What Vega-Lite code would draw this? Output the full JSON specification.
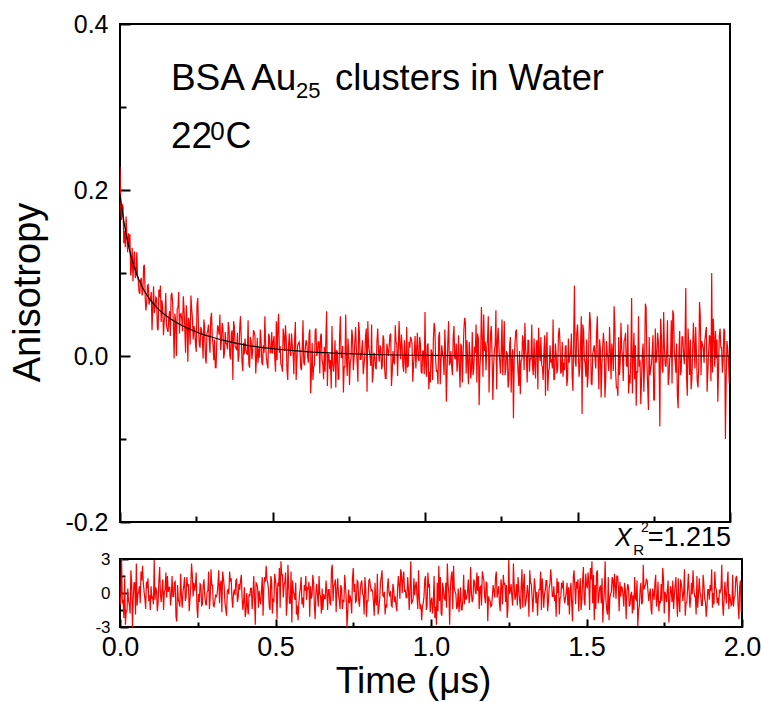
{
"$schema": "https://vega.github.io/schema/vega-lite/v6.json",
"padding": {"left": 8, "top": 11, "right": 5, "bottom": 5},
"bounds": "flush",
"spacing": 37,
"config": {
  "font": "Liberation Sans",
  "view": {"stroke": "#000", "strokeWidth": 2},
  "axis": {"domain": false, "grid": false, "labelFlush": false, "labelOverlap": false, "tickColor": "#000", "tickWidth": 2, "labelColor": "#000", "titleColor": "#000", "labelFont": "Liberation Sans", "titleFont": "Liberation Sans", "titleFontWeight": "normal"}
},
"datasets": {
"d": [
{"t":0,"a":0.228,"e":-1.1},{"t":0.005,"a":0.164,"e":3.0},{"t":0.01,"a":0.179,"e":-0.6},{"t":0.015,"a":0.151,"e":1.3},{"t":0.02,"a":0.168,"e":-1.6},{"t":0.025,"a":0.125,"e":0.4},{"t":0.03,"a":0.131,"e":-1.0},{"t":0.035,"a":0.097,"e":2.0},{"t":0.04,"a":0.130,"e":-3.0},{"t":0.045,"a":0.116,"e":0.9},
{"t":0.05,"a":0.094,"e":-1.9},{"t":0.055,"a":0.125,"e":-1.1},{"t":0.06,"a":0.091,"e":0.1},{"t":0.065,"a":0.075,"e":-0.9},{"t":0.07,"a":0.094,"e":1.1},{"t":0.075,"a":0.078,"e":0.9},{"t":0.08,"a":0.110,"e":-0.5},{"t":0.085,"a":0.055,"e":1.0},{"t":0.09,"a":0.085,"e":1.3},{"t":0.095,"a":0.062,"e":-0.2},
{"t":0.1,"a":0.070,"e":0.6},{"t":0.105,"a":0.031,"e":-0.3},{"t":0.11,"a":0.084,"e":2.9},{"t":0.115,"a":0.059,"e":0.5},{"t":0.12,"a":0.070,"e":-1.6},{"t":0.125,"a":0.031,"e":1.1},{"t":0.13,"a":0.071,"e":-0.1},{"t":0.135,"a":0.041,"e":0.2},{"t":0.14,"a":0.058,"e":-1.5},{"t":0.145,"a":0.042,"e":0.3},
{"t":0.15,"a":0.076,"e":-0.4},{"t":0.155,"a":0.032,"e":0.1},{"t":0.16,"a":0.046,"e":0.5},{"t":0.165,"a":0.024,"e":-0.2},{"t":0.17,"a":0.076,"e":-0.3},{"t":0.175,"a":0.039,"e":0.9},{"t":0.18,"a":0.051,"e":-2.1},{"t":0.185,"a":0.000,"e":0.7},{"t":0.19,"a":0.058,"e":-0.8},{"t":0.195,"a":0.027,"e":1.7},
{"t":0.2,"a":0.051,"e":-1.3},{"t":0.205,"a":0.030,"e":0.6},{"t":0.21,"a":0.057,"e":-0.7},{"t":0.215,"a":0.004,"e":1.4},{"t":0.22,"a":0.039,"e":0.8},{"t":0.225,"a":0.046,"e":-0.6},{"t":0.23,"a":0.014,"e":2.6},{"t":0.235,"a":0.057,"e":-0.3},{"t":0.24,"a":0.020,"e":0.2},{"t":0.245,"a":0.032,"e":1.8},
{"t":0.25,"a":0.005,"e":-2.2},{"t":0.255,"a":0.070,"e":-0.8},{"t":0.26,"a":0.014,"e":0.7},{"t":0.265,"a":0.035,"e":-1.0},{"t":0.27,"a":0.021,"e":1.2},{"t":0.275,"a":0.044,"e":-0.9},{"t":0.28,"a":-0.002,"e":0.1},{"t":0.285,"a":0.027,"e":1.9},{"t":0.29,"a":0.038,"e":-0.4},{"t":0.295,"a":0.004,"e":0.7},
{"t":0.3,"a":0.052,"e":-1.1},{"t":0.305,"a":0.014,"e":-0.7},{"t":0.31,"a":0.020,"e":-0.3},{"t":0.315,"a":-0.014,"e":0.8},{"t":0.32,"a":0.037,"e":-0.9},{"t":0.325,"a":0.026,"e":1.1},{"t":0.33,"a":0.007,"e":1.9},{"t":0.335,"a":0.040,"e":0.6},{"t":0.34,"a":-0.003,"e":-1.4},{"t":0.345,"a":0.029,"e":0.2},
{"t":0.35,"a":0.015,"e":-0.1},{"t":0.355,"a":0.041,"e":1.0},{"t":0.36,"a":0.001,"e":-0.5},{"t":0.365,"a":0.027,"e":0.0},{"t":0.37,"a":-0.029,"e":-0.2},{"t":0.375,"a":0.035,"e":1.2},{"t":0.38,"a":0.010,"e":-0.4},{"t":0.385,"a":0.028,"e":0.3},{"t":0.39,"a":0.001,"e":1.6},{"t":0.395,"a":0.048,"e":-1.5},
{"t":0.4,"a":-0.007,"e":0.5},{"t":0.405,"a":0.016,"e":-1.7},{"t":0.41,"a":0.021,"e":-1.2},{"t":0.415,"a":0.003,"e":-0.1},{"t":0.42,"a":0.043,"e":0.4},{"t":0.425,"a":-0.014,"e":-1.4},{"t":0.43,"a":0.017,"e":1.5},{"t":0.435,"a":0.006,"e":-2.8},{"t":0.44,"a":0.029,"e":0.8},{"t":0.445,"a":-0.021,"e":-1.3},
{"t":0.45,"a":0.022,"e":-0.6},{"t":0.455,"a":0.009,"e":0.3},{"t":0.46,"a":0.032,"e":-2.0},{"t":0.465,"a":-0.008,"e":1.4},{"t":0.47,"a":0.013,"e":2.4},{"t":0.475,"a":0.048,"e":0.9},{"t":0.48,"a":-0.002,"e":-1.2},{"t":0.485,"a":-0.015,"e":1.5},{"t":0.49,"a":0.023,"e":-1.8},{"t":0.495,"a":0.004,"e":-0.7},
{"t":0.5,"a":0.003,"e":1.1},{"t":0.505,"a":0.024,"e":-2.3},{"t":0.51,"a":-0.019,"e":0.6},{"t":0.515,"a":-0.005,"e":-1.3},{"t":0.52,"a":0.051,"e":1.6},{"t":0.525,"a":0.012,"e":-0.4},{"t":0.53,"a":-0.012,"e":1.0},{"t":0.535,"a":0.033,"e":-2.0},{"t":0.54,"a":0.006,"e":2.5},{"t":0.545,"a":0.021,"e":-0.9},
{"t":0.55,"a":-0.029,"e":1.9},{"t":0.555,"a":0.027,"e":1.1},{"t":0.56,"a":0.000,"e":-0.1},{"t":0.565,"a":0.012,"e":0.9},{"t":0.57,"a":-0.022,"e":-1.1},{"t":0.575,"a":0.041,"e":-0.9},{"t":0.58,"a":-0.005,"e":0.5},{"t":0.585,"a":0.015,"e":-1.0},{"t":0.59,"a":0.008,"e":-1.3},{"t":0.595,"a":-0.017,"e":0.2},
{"t":0.6,"a":0.043,"e":-0.6},{"t":0.605,"a":-0.011,"e":0.3},{"t":0.61,"a":0.019,"e":-2.1},{"t":0.615,"a":0.000,"e":-0.5},{"t":0.62,"a":0.027,"e":1.6},{"t":0.625,"a":-0.045,"e":-1.1},{"t":0.63,"a":0.016,"e":0.1},{"t":0.635,"a":-0.013,"e":-0.2},{"t":0.64,"a":0.031,"e":1.5},{"t":0.645,"a":0.000,"e":-0.3},
{"t":0.65,"a":0.017,"e":0.4},{"t":0.655,"a":-0.021,"e":-0.1},{"t":0.66,"a":0.027,"e":-0.5},{"t":0.665,"a":-0.010,"e":0.2},{"t":0.67,"a":0.011,"e":0.3},{"t":0.675,"a":0.022,"e":-0.9},{"t":0.68,"a":-0.036,"e":2.1},{"t":0.685,"a":0.002,"e":-0.7},{"t":0.69,"a":-0.005,"e":0.8},{"t":0.695,"a":0.036,"e":-1.7},
{"t":0.7,"a":-0.019,"e":1.3},{"t":0.705,"a":0.019,"e":-0.6},{"t":0.71,"a":0.007,"e":0.7},{"t":0.715,"a":-0.028,"e":-1.4},{"t":0.72,"a":0.023,"e":-0.8},{"t":0.725,"a":-0.002,"e":0.6},{"t":0.73,"a":0.012,"e":-3.0},{"t":0.735,"a":-0.013,"e":0.3},{"t":0.74,"a":0.050,"e":-0.2},{"t":0.745,"a":-0.024,"e":-1.8},
{"t":0.75,"a":0.005,"e":2.2},{"t":0.755,"a":-0.008,"e":0.8},{"t":0.76,"a":0.032,"e":-0.7},{"t":0.765,"a":-0.017,"e":1.0},{"t":0.77,"a":0.017,"e":-1.2},{"t":0.775,"a":0.008,"e":0.9},{"t":0.78,"a":-0.031,"e":-0.1},{"t":0.785,"a":0.028,"e":-1.9},{"t":0.79,"a":-0.004,"e":0.4},{"t":0.795,"a":0.019,"e":-0.7},
{"t":0.8,"a":-0.011,"e":1.1},{"t":0.805,"a":0.024,"e":0.7},{"t":0.81,"a":-0.043,"e":0.3},{"t":0.815,"a":0.013,"e":-0.8},{"t":0.82,"a":-0.002,"e":0.9},{"t":0.825,"a":0.038,"e":-1.1},{"t":0.83,"a":-0.021,"e":-1.9},{"t":0.835,"a":0.002,"e":-0.6},{"t":0.84,"a":-0.016,"e":1.4},{"t":0.845,"a":0.033,"e":-0.2},
{"t":0.85,"a":-0.007,"e":0.1},{"t":0.855,"a":0.009,"e":-1.0},{"t":0.86,"a":-0.012,"e":0.5},{"t":0.865,"a":0.020,"e":0.0},{"t":0.87,"a":-0.027,"e":0.2},{"t":0.875,"a":0.015,"e":-1.2},{"t":0.88,"a":0.000,"e":0.4},{"t":0.885,"a":0.025,"e":-0.3},{"t":0.89,"a":-0.036,"e":-1.6},{"t":0.895,"a":0.006,"e":1.5},
{"t":0.9,"a":-0.010,"e":-0.5},{"t":0.905,"a":0.017,"e":1.7},{"t":0.91,"a":-0.024,"e":1.2},{"t":0.915,"a":0.042,"e":0.1},{"t":0.92,"a":-0.004,"e":-0.4},{"t":0.925,"a":0.012,"e":1.4},{"t":0.93,"a":-0.019,"e":-1.5},{"t":0.935,"a":-0.003,"e":2.8},{"t":0.94,"a":0.035,"e":-0.8},{"t":0.945,"a":-0.012,"e":1.3},
{"t":0.95,"a":0.010,"e":0.6},{"t":0.955,"a":0.021,"e":-0.3},{"t":0.96,"a":-0.031,"e":2.0},{"t":0.965,"a":0.003,"e":-1.4},{"t":0.97,"a":-0.015,"e":-2.4},{"t":0.975,"a":0.028,"e":-0.9},{"t":0.98,"a":-0.006,"e":1.2},{"t":0.985,"a":0.015,"e":-1.5},{"t":0.99,"a":-0.021,"e":1.8},{"t":0.995,"a":0.006,"e":0.7},
{"t":1.0,"a":0.053,"e":-0.7},{"t":1.005,"a":-0.025,"e":-1.8},{"t":1.01,"a":0.015,"e":1.5},{"t":1.015,"a":-0.019,"e":-1.2},{"t":1.02,"a":0.008,"e":0.9},{"t":1.025,"a":-0.029,"e":2.4},{"t":1.03,"a":0.040,"e":1.4},{"t":1.035,"a":-0.006,"e":-2.0},{"t":1.04,"a":-0.017,"e":0.3},{"t":1.045,"a":0.023,"e":-0.6},
{"t":1.05,"a":-0.034,"e":-1.3},{"t":1.055,"a":0.013,"e":0.8},{"t":1.06,"a":-0.002,"e":-2.8},{"t":1.065,"a":0.032,"e":1.5},{"t":1.07,"a":-0.055,"e":-1.4},{"t":1.075,"a":0.019,"e":0.4},{"t":1.08,"a":-0.011,"e":-0.1},{"t":1.085,"a":0.006,"e":-1.2},{"t":1.09,"a":-0.023,"e":-1.7},{"t":1.095,"a":0.036,"e":0.5},
{"t":1.1,"a":-0.004,"e":-1.5},{"t":1.105,"a":-0.019,"e":1.6},{"t":1.11,"a":0.025,"e":0.3},{"t":1.115,"a":-0.038,"e":-0.4},{"t":1.12,"a":0.011,"e":1.2},{"t":1.125,"a":0.002,"e":-0.2},{"t":1.13,"a":0.046,"e":0.0},{"t":1.135,"a":-0.021,"e":-0.5},{"t":1.14,"a":-0.008,"e":1.0},{"t":1.145,"a":0.017,"e":-0.1},
{"t":1.15,"a":-0.027,"e":0.2},{"t":1.155,"a":0.029,"e":-1.4},{"t":1.16,"a":-0.015,"e":0.6},{"t":1.165,"a":0.004,"e":1.9},{"t":1.17,"a":-0.032,"e":1.1},{"t":1.175,"a":0.021,"e":-0.9},{"t":1.18,"a":-0.013,"e":0.8},{"t":1.185,"a":0.059,"e":-0.3},{"t":1.19,"a":-0.025,"e":-0.7},{"t":1.195,"a":0.006,"e":-1.1},
{"t":1.2,"a":-0.017,"e":0.7},{"t":1.205,"a":0.019,"e":-0.4},{"t":1.21,"a":-0.044,"e":1.9},{"t":1.215,"a":0.027,"e":0.1},{"t":1.22,"a":-0.002,"e":-0.9},{"t":1.225,"a":-0.011,"e":1.2},{"t":1.23,"a":0.013,"e":-1.0},{"t":1.235,"a":-0.040,"e":0.7},{"t":1.24,"a":0.034,"e":-0.8},{"t":1.245,"a":-0.006,"e":-2.2},
{"t":1.25,"a":0.008,"e":2.9},{"t":1.255,"a":-0.023,"e":0.2},{"t":1.26,"a":0.042,"e":-0.3},{"t":1.265,"a":-0.015,"e":2.6},{"t":1.27,"a":0.002,"e":-0.6},{"t":1.275,"a":-0.029,"e":0.8},{"t":1.28,"a":0.023,"e":1.4},{"t":1.285,"a":-0.004,"e":-0.7},{"t":1.29,"a":-0.075,"e":0.6},{"t":1.295,"a":0.015,"e":-1.3},
{"t":1.3,"a":0.032,"e":1.7},{"t":1.305,"a":-0.019,"e":-0.8},{"t":1.31,"a":0.006,"e":0.7},{"t":1.315,"a":-0.006,"e":-2.1},{"t":1.32,"a":0.025,"e":0.9},{"t":1.325,"a":-0.017,"e":-0.3},{"t":1.33,"a":0.008,"e":-0.2},{"t":1.335,"a":-0.032,"e":0.5},{"t":1.34,"a":0.019,"e":0.1},{"t":1.345,"a":-0.002,"e":-0.4},
{"t":1.35,"a":0.038,"e":0.3},{"t":1.355,"a":-0.023,"e":-1.5},{"t":1.36,"a":-0.011,"e":0.2},{"t":1.365,"a":0.015,"e":-0.1},{"t":1.37,"a":-0.040,"e":1.1},{"t":1.375,"a":0.004,"e":-1.6},{"t":1.38,"a":0.023,"e":0.5},{"t":1.385,"a":-0.013,"e":2.1},{"t":1.39,"a":0.006,"e":-0.3},{"t":1.395,"a":-0.048,"e":0.6},
{"t":1.4,"a":0.029,"e":-0.2},{"t":1.405,"a":-0.019,"e":1.3},{"t":1.41,"a":0.013,"e":1.0},{"t":1.415,"a":-0.004,"e":-0.5},{"t":1.42,"a":0.044,"e":0.9},{"t":1.425,"a":-0.027,"e":1.1},{"t":1.43,"a":0.002,"e":-0.9},{"t":1.435,"a":-0.015,"e":0.1},{"t":1.44,"a":0.034,"e":-1.1},{"t":1.445,"a":-0.021,"e":-1.9},
{"t":1.45,"a":0.017,"e":0.9},{"t":1.455,"a":-0.008,"e":-2.5},{"t":1.46,"a":0.011,"e":2.0},{"t":1.465,"a":-0.036,"e":-1.0},{"t":1.47,"a":0.021,"e":0.4},{"t":1.475,"a":0.000,"e":-1.6},{"t":1.48,"a":0.027,"e":1.3},{"t":1.485,"a":-0.042,"e":-0.6},{"t":1.49,"a":0.085,"e":2.3},{"t":1.495,"a":-0.013,"e":-1.1},
{"t":1.5,"a":0.038,"e":0.7},{"t":1.505,"a":-0.025,"e":1.8},{"t":1.51,"a":0.015,"e":-1.5},{"t":1.515,"a":-0.070,"e":1.2},{"t":1.52,"a":0.030,"e":-0.9},{"t":1.525,"a":-0.008,"e":-2.4},{"t":1.53,"a":0.020,"e":-1.4},{"t":1.535,"a":-0.023,"e":2.0},{"t":1.54,"a":0.053,"e":-0.3},{"t":1.545,"a":-0.033,"e":0.6},
{"t":1.55,"a":0.003,"e":1.3},{"t":1.555,"a":0.013,"e":-0.8},{"t":1.56,"a":-0.015,"e":2.8},{"t":1.565,"a":0.048,"e":-1.5},{"t":1.57,"a":-0.040,"e":1.4},{"t":1.575,"a":0.008,"e":-0.4},{"t":1.58,"a":-0.010,"e":0.1},{"t":1.585,"a":0.028,"e":1.2},{"t":1.59,"a":-0.050,"e":1.7},{"t":1.595,"a":0.018,"e":-0.5},
{"t":1.6,"a":-0.003,"e":1.5},{"t":1.605,"a":0.035,"e":-1.6},{"t":1.61,"a":-0.028,"e":-0.3},{"t":1.615,"a":0.005,"e":0.4},{"t":1.62,"a":0.060,"e":-1.2},{"t":1.625,"a":-0.018,"e":0.2},{"t":1.63,"a":-0.038,"e":0.0},{"t":1.635,"a":0.023,"e":0.5},{"t":1.64,"a":-0.008,"e":-1.0},{"t":1.645,"a":0.008,"e":0.1},
{"t":1.65,"a":-0.030,"e":-0.2},{"t":1.655,"a":0.020,"e":1.4},{"t":1.66,"a":-0.010,"e":-0.6},{"t":1.665,"a":0.038,"e":-2.9},{"t":1.67,"a":-0.023,"e":-1.1},{"t":1.675,"a":0.003,"e":0.9},{"t":1.68,"a":-0.045,"e":-0.8},{"t":1.685,"a":0.028,"e":0.3},{"t":1.69,"a":0.013,"e":0.7},{"t":1.695,"a":-0.018,"e":1.1},
{"t":1.7,"a":0.048,"e":-0.7},{"t":1.705,"a":-0.005,"e":0.4},{"t":1.71,"a":-0.028,"e":-1.9},{"t":1.715,"a":0.015,"e":-0.1},{"t":1.72,"a":-0.008,"e":0.9},{"t":1.725,"a":0.058,"e":-1.2},{"t":1.73,"a":-0.035,"e":1.0},{"t":1.735,"a":0.023,"e":-0.7},{"t":1.74,"a":-0.015,"e":0.8},{"t":1.745,"a":0.005,"e":2.2},
{"t":1.75,"a":-0.053,"e":-1.8},{"t":1.755,"a":0.033,"e":-0.2},{"t":1.76,"a":-0.003,"e":0.3},{"t":1.765,"a":0.018,"e":-2.6},{"t":1.77,"a":-0.085,"e":0.6},{"t":1.775,"a":0.025,"e":-0.8},{"t":1.78,"a":-0.020,"e":-1.4},{"t":1.785,"a":0.010,"e":0.7},{"t":1.79,"a":-0.013,"e":-0.6},{"t":1.795,"a":0.043,"e":1.3},
{"t":1.8,"a":-0.025,"e":-1.7},{"t":1.805,"a":0.000,"e":0.8},{"t":1.81,"a":-0.033,"e":-0.7},{"t":1.815,"a":0.050,"e":2.1},{"t":1.82,"a":-0.005,"e":-0.9},{"t":1.825,"a":0.015,"e":0.3},{"t":1.83,"a":-0.063,"e":0.2},{"t":1.835,"a":0.030,"e":-0.5},{"t":1.84,"a":-0.018,"e":-0.1},{"t":1.845,"a":0.023,"e":0.4},
{"t":1.85,"a":-0.010,"e":-0.3},{"t":1.855,"a":0.082,"e":1.5},{"t":1.86,"a":-0.048,"e":-0.2},{"t":1.865,"a":0.008,"e":0.1},{"t":1.87,"a":0.020,"e":-1.1},{"t":1.875,"a":-0.028,"e":1.6},{"t":1.88,"a":0.040,"e":-0.5},{"t":1.885,"a":-0.015,"e":-2.1},{"t":1.89,"a":0.003,"e":0.3},{"t":1.895,"a":-0.038,"e":-0.6},
{"t":1.9,"a":0.065,"e":0.2},{"t":1.905,"a":-0.023,"e":-1.3},{"t":1.91,"a":0.013,"e":-1.0},{"t":1.915,"a":-0.008,"e":0.5},{"t":1.92,"a":0.028,"e":-0.9},{"t":1.925,"a":-0.043,"e":-1.1},{"t":1.93,"a":0.005,"e":0.1},{"t":1.935,"a":0.023,"e":2.5},{"t":1.94,"a":0.100,"e":-2.0},{"t":1.945,"a":0.045,"e":1.0},
{"t":1.95,"a":-0.013,"e":-0.9},{"t":1.955,"a":-0.003,"e":1.9},{"t":1.96,"a":-0.055,"e":-0.1},{"t":1.965,"a":0.025,"e":-1.1},{"t":1.97,"a":0.010,"e":1.6},{"t":1.975,"a":-0.020,"e":-0.4},{"t":1.98,"a":0.033,"e":1.3},{"t":1.985,"a":-0.100,"e":0.6},{"t":1.99,"a":0.018,"e":-2.3},{"t":1.995,"a":-0.005,"e":1.1},
{"t":0.0025,"a":0.181,"e":-0.4},{"t":0.0075,"a":0.183,"e":-0.9},{"t":0.0125,"a":0.136,"e":-2.2},{"t":0.0175,"a":0.131,"e":-2.8},{"t":0.0225,"a":0.145,"e":-1.6},{"t":0.0275,"a":0.148,"e":-0.7},{"t":0.0325,"a":0.147,"e":-1.8},{"t":0.0375,"a":0.106,"e":0.9},{"t":0.0425,"a":0.090,"e":-0.5},{"t":0.0475,"a":0.126,"e":0.9},
{"t":0.0525,"a":0.097,"e":2.6},{"t":0.0575,"a":0.097,"e":-0.1},{"t":0.0625,"a":0.077,"e":0.6},{"t":0.0675,"a":0.091,"e":1.9},{"t":0.0725,"a":0.073,"e":2.4},{"t":0.0775,"a":0.108,"e":0.1},{"t":0.0825,"a":0.071,"e":-1.4},{"t":0.0875,"a":0.065,"e":0.4},{"t":0.0925,"a":0.086,"e":-0.7},{"t":0.0975,"a":0.067,"e":-1.5},
{"t":0.1025,"a":0.077,"e":-0.5},{"t":0.1075,"a":0.059,"e":-1.0},{"t":0.1125,"a":0.052,"e":-0.6},{"t":0.1175,"a":0.071,"e":0.2},{"t":0.1225,"a":0.034,"e":-0.9},{"t":0.1275,"a":0.080,"e":2.3},{"t":0.1325,"a":0.085,"e":-0.8},{"t":0.1375,"a":0.067,"e":1.2},{"t":0.1425,"a":0.025,"e":0.1},{"t":0.1475,"a":0.050,"e":1.8},
{"t":0.1525,"a":0.037,"e":1.5},{"t":0.1575,"a":0.029,"e":0.5},{"t":0.1625,"a":0.054,"e":-1.1},{"t":0.1675,"a":0.073,"e":1.5},{"t":0.1725,"a":0.064,"e":-0.3},{"t":0.1775,"a":-0.003,"e":1.0},{"t":0.1825,"a":0.042,"e":-2.5},{"t":0.1875,"a":0.057,"e":-0.6},{"t":0.1925,"a":0.077,"e":-1.2},{"t":0.1975,"a":0.050,"e":-0.2},
{"t":0.2025,"a":0.045,"e":0.1},{"t":0.2075,"a":0.072,"e":1.4},{"t":0.2125,"a":0.033,"e":-0.4},{"t":0.2175,"a":0.061,"e":0.6},{"t":0.2225,"a":-0.007,"e":-1.6},{"t":0.2275,"a":0.037,"e":0.6},{"t":0.2325,"a":0.073,"e":1.6},{"t":0.2375,"a":0.045,"e":0.9},{"t":0.2425,"a":0.036,"e":0.7},{"t":0.2475,"a":0.014,"e":-1.3},
{"t":0.2525,"a":0.062,"e":-0.1},{"t":0.2575,"a":0.033,"e":0.8},{"t":0.2625,"a":0.010,"e":-1.1},{"t":0.2675,"a":0.031,"e":0.7},{"t":0.2725,"a":-0.003,"e":-0.2},{"t":0.2775,"a":0.035,"e":-1.1},{"t":0.2825,"a":-0.009,"e":0.2},{"t":0.2875,"a":0.030,"e":-1.4},{"t":0.2925,"a":0.020,"e":2.1},{"t":0.2975,"a":0.045,"e":0.7},
{"t":0.3025,"a":0.024,"e":-1.2},{"t":0.3075,"a":-0.005,"e":-0.2},{"t":0.3125,"a":-0.014,"e":-0.1},{"t":0.3175,"a":0.018,"e":2.0},{"t":0.3225,"a":0.033,"e":0.8},{"t":0.3275,"a":0.050,"e":-1.7},{"t":0.3325,"a":0.018,"e":1.3},{"t":0.3375,"a":0.033,"e":-0.9},{"t":0.3425,"a":0.004,"e":-2.0},{"t":0.3475,"a":0.015,"e":0.3},
{"t":0.3525,"a":0.008,"e":1.9},{"t":0.3575,"a":0.033,"e":1.3},{"t":0.3625,"a":-0.004,"e":-1.3},{"t":0.3675,"a":0.031,"e":0.3},{"t":0.3725,"a":0.042,"e":1.1},{"t":0.3775,"a":0.011,"e":-0.8},{"t":0.3825,"a":0.007,"e":0.8},{"t":0.3875,"a":-0.007,"e":1.1},{"t":0.3925,"a":0.034,"e":-0.3},{"t":0.3975,"a":0.022,"e":-0.7},
{"t":0.4025,"a":-0.018,"e":-2.1},{"t":0.4075,"a":0.002,"e":0.0},{"t":0.4125,"a":0.007,"e":-1.9},{"t":0.4175,"a":0.002,"e":-0.3},{"t":0.4225,"a":-0.010,"e":0.4},{"t":0.4275,"a":0.023,"e":-0.3},{"t":0.4325,"a":-0.004,"e":-0.4},{"t":0.4375,"a":0.031,"e":0.9},{"t":0.4425,"a":0.024,"e":0.5},{"t":0.4475,"a":-0.003,"e":0.2},
{"t":0.4525,"a":-0.008,"e":-1.0},{"t":0.4575,"a":-0.002,"e":1.4},{"t":0.4625,"a":0.020,"e":0.5},{"t":0.4675,"a":-0.011,"e":1.0},{"t":0.4725,"a":0.004,"e":1.2},{"t":0.4775,"a":0.013,"e":0.3},{"t":0.4825,"a":-0.010,"e":-1.5},{"t":0.4875,"a":0.027,"e":1.1},{"t":0.4925,"a":0.004,"e":-0.6},{"t":0.4975,"a":0.029,"e":1.7},
{"t":0.5025,"a":0.017,"e":0.4},{"t":0.5075,"a":-0.003,"e":0.9},{"t":0.5125,"a":0.042,"e":2.2},{"t":0.5175,"a":0.035,"e":2.8},{"t":0.5225,"a":0.004,"e":1.6},{"t":0.5275,"a":-0.010,"e":0.7},{"t":0.5325,"a":-0.019,"e":1.8},{"t":0.5375,"a":0.024,"e":-0.9},{"t":0.5425,"a":0.037,"e":0.5},{"t":0.5475,"a":-0.017,"e":-0.9},
{"t":0.5525,"a":0.012,"e":-2.6},{"t":0.5575,"a":0.005,"e":0.1},{"t":0.5625,"a":0.027,"e":-0.6},{"t":0.5675,"a":0.003,"e":-1.9},{"t":0.5725,"a":0.021,"e":-2.4},{"t":0.5775,"a":-0.029,"e":-0.1},{"t":0.5825,"a":0.013,"e":1.4},{"t":0.5875,"a":0.017,"e":-0.4},{"t":0.5925,"a":-0.014,"e":0.7},{"t":0.5975,"a":0.008,"e":1.5},
{"t":0.6025,"a":-0.008,"e":0.5},{"t":0.6075,"a":0.010,"e":1.0},{"t":0.6125,"a":0.016,"e":0.6},{"t":0.6175,"a":-0.008,"e":-0.2},{"t":0.6225,"a":0.032,"e":0.9},{"t":0.6275,"a":-0.022,"e":-2.3},{"t":0.6325,"a":-0.029,"e":0.8},{"t":0.6375,"a":-0.011,"e":-1.2},{"t":0.6425,"a":0.033,"e":-0.1},{"t":0.6475,"a":0.004,"e":-1.8},
{"t":0.6525,"a":0.017,"e":-1.5},{"t":0.6575,"a":0.024,"e":-0.5},{"t":0.6625,"a":-0.005,"e":1.1},{"t":0.6675,"a":-0.028,"e":-1.5},{"t":0.6725,"a":-0.019,"e":0.3},{"t":0.6775,"a":0.054,"e":-1.0},{"t":0.6825,"a":0.002,"e":2.5},{"t":0.6875,"a":-0.016,"e":0.6},{"t":0.6925,"a":-0.039,"e":1.2},{"t":0.6975,"a":-0.010,"e":0.2},
{"t":0.7025,"a":-0.006,"e":-0.1},{"t":0.7075,"a":-0.038,"e":-1.4},{"t":0.7125,"a":0.005,"e":0.4},{"t":0.7175,"a":-0.028,"e":-0.6},{"t":0.7225,"a":0.048,"e":1.6},{"t":0.7275,"a":-0.002,"e":-0.6},{"t":0.7325,"a":-0.044,"e":-1.6},{"t":0.7375,"a":-0.013,"e":-0.9},{"t":0.7425,"a":-0.004,"e":-0.7},{"t":0.7475,"a":0.021,"e":1.3},
{"t":0.7525,"a":-0.035,"e":0.1},{"t":0.7575,"a":-0.002,"e":-0.8},{"t":0.7625,"a":0.023,"e":1.1},{"t":0.7675,"a":-0.002,"e":-0.7},{"t":0.7725,"a":0.035,"e":0.2},{"t":0.7775,"a":-0.008,"e":1.1},{"t":0.7825,"a":0.041,"e":-0.2},{"t":0.7875,"a":-0.004,"e":1.4},{"t":0.7925,"a":0.007,"e":-2.1},{"t":0.7975,"a":-0.022,"e":-0.7},
{"t":0.8025,"a":0.000,"e":1.2},{"t":0.8075,"a":0.033,"e":0.2},{"t":0.8125,"a":0.042,"e":0.1},{"t":0.8175,"a":0.006,"e":-2.0},{"t":0.8225,"a":-0.012,"e":-0.8},{"t":0.8275,"a":-0.032,"e":1.7},{"t":0.8325,"a":0.004,"e":-1.3},{"t":0.8375,"a":-0.014,"e":0.9},{"t":0.8425,"a":0.018,"e":2.0},{"t":0.8475,"a":0.006,"e":-0.3},
{"t":0.8525,"a":0.013,"e":-1.9},{"t":0.8575,"a":-0.016,"e":-1.3},{"t":0.8625,"a":0.025,"e":1.3},{"t":0.8675,"a":-0.014,"e":-0.3},{"t":0.8725,"a":-0.027,"e":-1.1},{"t":0.8775,"a":0.007,"e":0.8},{"t":0.8825,"a":0.011,"e":-0.8},{"t":0.8875,"a":0.027,"e":-1.1},{"t":0.8925,"a":-0.020,"e":0.3},{"t":0.8975,"a":-0.007,"e":0.7},
{"t":0.9025,"a":0.037,"e":2.1},{"t":0.9075,"a":0.014,"e":0.0},{"t":0.9125,"a":0.008,"e":1.9},{"t":0.9175,"a":0.014,"e":0.3},{"t":0.9225,"a":0.026,"e":-0.4},{"t":0.9275,"a":-0.012,"e":0.3},{"t":0.9325,"a":0.019,"e":0.4},{"t":0.9375,"a":-0.021,"e":-0.9},{"t":0.9425,"a":-0.013,"e":-0.5},{"t":0.9475,"a":0.017,"e":-0.2},
{"t":0.9525,"a":0.023,"e":1.0},{"t":0.9575,"a":0.015,"e":-1.4},{"t":0.9625,"a":-0.010,"e":-0.5},{"t":0.9675,"a":0.024,"e":-1.0},{"t":0.9725,"a":0.008,"e":-1.2},{"t":0.9775,"a":-0.003,"e":-0.3},{"t":0.9825,"a":0.023,"e":1.5},{"t":0.9875,"a":-0.019,"e":-1.1},{"t":0.9925,"a":0.006,"e":0.6},{"t":0.9975,"a":-0.022,"e":-1.7},
{"t":1.0025,"a":-0.011,"e":-0.4},{"t":1.0075,"a":0.013,"e":-0.9},{"t":1.0125,"a":-0.040,"e":-2.2},{"t":1.0175,"a":-0.032,"e":-2.8},{"t":1.0225,"a":0.004,"e":-1.6},{"t":1.0275,"a":0.021,"e":-0.7},{"t":1.0325,"a":0.032,"e":-1.8},{"t":1.0375,"a":-0.019,"e":0.9},{"t":1.0425,"a":-0.034,"e":-0.5},{"t":1.0475,"a":0.029,"e":0.9},
{"t":1.0525,"a":-0.006,"e":2.6},{"t":1.0575,"a":0.002,"e":-0.1},{"t":1.0625,"a":-0.023,"e":0.6},{"t":1.0675,"a":0.004,"e":1.9},{"t":1.0725,"a":-0.017,"e":2.4},{"t":1.0775,"a":0.042,"e":0.1},{"t":1.0825,"a":-0.008,"e":-1.4},{"t":1.0875,"a":-0.013,"e":0.4},{"t":1.0925,"a":0.023,"e":-0.7},{"t":1.0975,"a":-0.002,"e":-1.5},
{"t":1.1025,"a":0.015,"e":-0.5},{"t":1.1075,"a":-0.006,"e":-1.0},{"t":1.1125,"a":-0.013,"e":-0.6},{"t":1.1175,"a":0.015,"e":0.2},{"t":1.1225,"a":-0.032,"e":-0.9},{"t":1.1275,"a":0.032,"e":2.3},{"t":1.1325,"a":0.040,"e":-0.8},{"t":1.1375,"a":0.019,"e":1.2},{"t":1.1425,"a":-0.034,"e":0.1},{"t":1.1475,"a":0.000,"e":1.8},
{"t":1.1525,"a":-0.015,"e":1.5},{"t":1.1575,"a":-0.023,"e":0.5},{"t":1.1625,"a":0.011,"e":-1.1},{"t":1.1675,"a":0.038,"e":1.5},{"t":1.1725,"a":0.027,"e":-0.3},{"t":1.1775,"a":-0.059,"e":1.0},{"t":1.1825,"a":0.002,"e":-2.5},{"t":1.1875,"a":0.023,"e":-0.6},{"t":1.1925,"a":0.050,"e":-1.2},{"t":1.1975,"a":0.017,"e":-0.2},
{"t":1.2025,"a":0.011,"e":0.1},{"t":1.2075,"a":0.048,"e":1.4},{"t":1.2125,"a":-0.002,"e":-0.4},{"t":1.2175,"a":0.036,"e":0.6},{"t":1.2225,"a":-0.053,"e":-1.6},{"t":1.2275,"a":0.006,"e":0.6},{"t":1.2325,"a":0.055,"e":1.6},{"t":1.2375,"a":0.019,"e":0.9},{"t":1.2425,"a":0.008,"e":0.7},{"t":1.2475,"a":-0.021,"e":-1.3},
{"t":1.2525,"a":0.044,"e":-0.1},{"t":1.2575,"a":0.006,"e":0.8},{"t":1.2625,"a":-0.023,"e":-1.1},{"t":1.2675,"a":0.006,"e":0.7},{"t":1.2725,"a":-0.038,"e":-0.2},{"t":1.2775,"a":0.013,"e":-1.1},{"t":1.2825,"a":-0.044,"e":0.2},{"t":1.2875,"a":0.008,"e":-1.4},{"t":1.2925,"a":-0.004,"e":2.1},{"t":1.2975,"a":0.029,"e":0.7},
{"t":1.3025,"a":0.002,"e":-1.2},{"t":1.3075,"a":-0.036,"e":-0.2},{"t":1.3125,"a":-0.046,"e":-0.1},{"t":1.3175,"a":-0.004,"e":2.0},{"t":1.3225,"a":0.017,"e":0.8},{"t":1.3275,"a":0.040,"e":-1.7},{"t":1.3325,"a":-0.002,"e":1.3},{"t":1.3375,"a":0.019,"e":-0.9},{"t":1.3425,"a":-0.019,"e":-2.0},{"t":1.3475,"a":-0.004,"e":0.3},
{"t":1.3525,"a":-0.013,"e":1.9},{"t":1.3575,"a":0.021,"e":1.3},{"t":1.3625,"a":-0.027,"e":-1.3},{"t":1.3675,"a":0.019,"e":0.3},{"t":1.3725,"a":0.034,"e":1.1},{"t":1.3775,"a":-0.006,"e":-0.8},{"t":1.3825,"a":-0.011,"e":0.8},{"t":1.3875,"a":-0.029,"e":1.1},{"t":1.3925,"a":0.025,"e":-0.3},{"t":1.3975,"a":0.011,"e":-0.7},
{"t":1.4025,"a":-0.042,"e":-2.1},{"t":1.4075,"a":-0.015,"e":0.0},{"t":1.4125,"a":-0.008,"e":-1.9},{"t":1.4175,"a":-0.015,"e":-0.3},{"t":1.4225,"a":-0.029,"e":0.4},{"t":1.4275,"a":0.015,"e":-0.3},{"t":1.4325,"a":-0.021,"e":-0.4},{"t":1.4375,"a":0.025,"e":0.9},{"t":1.4425,"a":0.017,"e":0.5},{"t":1.4475,"a":-0.019,"e":0.2},
{"t":1.4525,"a":-0.025,"e":-1.0},{"t":1.4575,"a":-0.017,"e":1.4},{"t":1.4625,"a":0.013,"e":0.5},{"t":1.4675,"a":-0.027,"e":1.0},{"t":1.4725,"a":-0.008,"e":1.2},{"t":1.4775,"a":0.004,"e":0.3},{"t":1.4825,"a":-0.025,"e":-1.5},{"t":1.4875,"a":0.023,"e":1.1},{"t":1.4925,"a":-0.006,"e":-0.6},{"t":1.4975,"a":0.027,"e":1.7},
{"t":1.5025,"a":0.013,"e":0.4},{"t":1.5075,"a":-0.015,"e":0.9},{"t":1.5125,"a":0.048,"e":2.2},{"t":1.5175,"a":0.038,"e":2.8},{"t":1.5225,"a":-0.005,"e":1.6},{"t":1.5275,"a":-0.025,"e":0.7},{"t":1.5325,"a":-0.038,"e":1.8},{"t":1.5375,"a":0.023,"e":-0.9},{"t":1.5425,"a":0.040,"e":0.5},{"t":1.5475,"a":-0.035,"e":-0.9},
{"t":1.5525,"a":0.008,"e":-2.6},{"t":1.5575,"a":-0.003,"e":0.1},{"t":1.5625,"a":0.028,"e":-0.6},{"t":1.5675,"a":-0.005,"e":-1.9},{"t":1.5725,"a":0.020,"e":-2.4},{"t":1.5775,"a":-0.050,"e":-0.1},{"t":1.5825,"a":0.010,"e":1.4},{"t":1.5875,"a":0.015,"e":-0.4},{"t":1.5925,"a":-0.028,"e":0.7},{"t":1.5975,"a":0.003,"e":1.5},
{"t":1.6025,"a":-0.018,"e":0.5},{"t":1.6075,"a":0.008,"e":1.0},{"t":1.6125,"a":0.015,"e":0.6},{"t":1.6175,"a":-0.018,"e":-0.2},{"t":1.6225,"a":0.038,"e":0.9},{"t":1.6275,"a":-0.038,"e":-2.3},{"t":1.6325,"a":-0.048,"e":0.8},{"t":1.6375,"a":-0.023,"e":-1.2},{"t":1.6425,"a":0.040,"e":-0.1},{"t":1.6475,"a":0.000,"e":-1.8},
{"t":1.6525,"a":0.018,"e":-1.5},{"t":1.6575,"a":0.028,"e":-0.5},{"t":1.6625,"a":-0.013,"e":1.1},{"t":1.6675,"a":-0.045,"e":-1.5},{"t":1.6725,"a":-0.033,"e":0.3},{"t":1.6775,"a":0.070,"e":-1.0},{"t":1.6825,"a":-0.003,"e":2.5},{"t":1.6875,"a":-0.028,"e":0.6},{"t":1.6925,"a":-0.060,"e":1.2},{"t":1.6975,"a":-0.020,"e":0.2},
{"t":1.7025,"a":-0.013,"e":-0.1},{"t":1.7075,"a":-0.058,"e":-1.4},{"t":1.7125,"a":0.003,"e":0.4},{"t":1.7175,"a":-0.043,"e":-0.6},{"t":1.7225,"a":0.063,"e":1.6},{"t":1.7275,"a":-0.008,"e":-0.6},{"t":1.7325,"a":-0.065,"e":-1.6},{"t":1.7375,"a":-0.023,"e":-0.9},{"t":1.7425,"a":-0.010,"e":-0.7},{"t":1.7475,"a":0.025,"e":1.3},
{"t":1.7525,"a":-0.053,"e":0.1},{"t":1.7575,"a":-0.008,"e":-0.8},{"t":1.7625,"a":0.028,"e":1.1},{"t":1.7675,"a":-0.008,"e":-0.7},{"t":1.7725,"a":0.045,"e":0.2},{"t":1.7775,"a":-0.015,"e":1.1},{"t":1.7825,"a":0.053,"e":-0.2},{"t":1.7875,"a":-0.010,"e":1.4},{"t":1.7925,"a":0.005,"e":-2.1},{"t":1.7975,"a":-0.035,"e":-0.7},
{"t":1.8025,"a":-0.003,"e":1.2},{"t":1.8075,"a":0.043,"e":0.2},{"t":1.8125,"a":0.055,"e":0.1},{"t":1.8175,"a":0.005,"e":-2.0},{"t":1.8225,"a":-0.020,"e":-0.8},{"t":1.8275,"a":-0.048,"e":1.7},{"t":1.8325,"a":0.003,"e":-1.3},{"t":1.8375,"a":-0.023,"e":0.9},{"t":1.8425,"a":0.023,"e":2.0},{"t":1.8475,"a":0.005,"e":-0.3},
{"t":1.8525,"a":0.015,"e":-1.9},{"t":1.8575,"a":-0.025,"e":-1.3},{"t":1.8625,"a":0.033,"e":1.3},{"t":1.8675,"a":-0.023,"e":-0.3},{"t":1.8725,"a":-0.040,"e":-1.1},{"t":1.8775,"a":0.008,"e":0.8},{"t":1.8825,"a":0.013,"e":-0.8},{"t":1.8875,"a":0.035,"e":-1.1},{"t":1.8925,"a":-0.030,"e":0.3},{"t":1.8975,"a":-0.013,"e":0.7},
{"t":1.9025,"a":0.050,"e":2.1},{"t":1.9075,"a":0.018,"e":0.0},{"t":1.9125,"a":0.010,"e":1.9},{"t":1.9175,"a":0.018,"e":0.3},{"t":1.9225,"a":0.035,"e":-0.4},{"t":1.9275,"a":-0.018,"e":0.3},{"t":1.9325,"a":0.025,"e":0.4},{"t":1.9375,"a":-0.030,"e":-0.9},{"t":1.9425,"a":-0.020,"e":-0.5},{"t":1.9475,"a":0.023,"e":-0.2},
{"t":1.9525,"a":0.030,"e":1.0},{"t":1.9575,"a":0.020,"e":-1.4},{"t":1.9625,"a":-0.015,"e":-0.5},{"t":1.9675,"a":0.033,"e":-1.0},{"t":1.9725,"a":0.010,"e":-1.2},{"t":1.9775,"a":-0.005,"e":-0.3},{"t":1.9825,"a":0.030,"e":1.5},{"t":1.9875,"a":-0.028,"e":-1.1},{"t":1.9925,"a":0.008,"e":0.6},{"t":1.9975,"a":-0.033,"e":-1.7}
],
"fit": [
{"t":0,"f":0.195},{"t":0.005,"f":0.181},{"t":0.01,"f":0.1685},{"t":0.02,"f":0.1471},{"t":0.03,"f":0.1296},{"t":0.04,"f":0.1153},{"t":0.05,"f":0.1036},{"t":0.06,"f":0.0937},{"t":0.07,"f":0.0855},{"t":0.08,"f":0.0784},{"t":0.1,"f":0.0672},{"t":0.12,"f":0.0586},{"t":0.15,"f":0.0489},{"t":0.2,"f":0.0374},{"t":0.25,"f":0.0291},{"t":0.3,"f":0.0229},{"t":0.35,"f":0.0179},{"t":0.4,"f":0.0141},{"t":0.5,"f":0.0088},{"t":0.6,"f":0.0055},{"t":0.7,"f":0.0034},{"t":0.8,"f":0.0021},{"t":1.0,"f":0.0008},{"t":1.2,"f":0.0003},{"t":1.5,"f":0.0001},{"t":2.0,"f":0}
]
},
"vconcat": [
{
  "width": 610, "height": 498,
  "layer": [
    {"data": {"name": "d"}, "mark": {"type": "line", "color": "#ff0000", "strokeWidth": 1.2, "clip": true},
     "encoding": {
       "x": {"field": "t", "type": "quantitative", "scale": {"domain": [0, 2], "nice": false},
             "axis": {"values": [0,0.25,0.5,0.75,1,1.25,1.5,1.75,2], "tickCount": 20, "labels": false, "title": null,
                      "tickSize": {"condition": {"test": "round(datum.value*4) % 2 == 0", "value": -10}, "value": -6}}},
       "y": {"field": "a", "type": "quantitative", "scale": {"domain": [-0.2, 0.4], "nice": false},
             "axis": {"values": [-0.2,-0.1,0,0.1,0.2,0.3,0.4], "tickCount": 20, "labelOverlap": false,
                      "labelExpr": "round(datum.value*10) == -2 ? '-0.2' : round(datum.value*10) == 0 ? '0.0' : round(datum.value*10) == 2 ? '0.2' : round(datum.value*10) == 4 ? '0.4' : ''",
                      "labelFontSize": 25, "labelPadding": 22,
                      "tickSize": {"condition": {"test": "round(datum.value*10) % 2 == 0", "value": -10}, "value": -6},
                      "title": "Anisotropy", "titleFontSize": 38, "titlePadding": 17, "titleY": 268}}
     }},
    {"data": {"name": "fit"}, "mark": {"type": "line", "color": "#000", "strokeWidth": 1.2, "interpolate": "monotone"},
     "encoding": {"x": {"field": "t", "type": "quantitative", "scale": {"domain": [0, 2], "nice": false}},
                  "y": {"field": "f", "type": "quantitative", "scale": {"domain": [-0.2, 0.4], "nice": false}}}},
    {"data": {"values": [{}]}, "mark": {"type": "text", "text": "BSA Au", "fontSize": 37, "align": "left", "baseline": "alphabetic", "color": "#000"},
     "encoding": {"x": {"datum": 0.167, "type": "quantitative"}, "y": {"datum": 0.3205, "type": "quantitative"}}},
    {"data": {"values": [{}]}, "mark": {"type": "text", "text": "25", "fontSize": 22, "align": "left", "baseline": "alphabetic", "color": "#000"},
     "encoding": {"x": {"datum": 0.577, "type": "quantitative"}, "y": {"datum": 0.311, "type": "quantitative"}}},
    {"data": {"values": [{}]}, "mark": {"type": "text", "text": "clusters in Water", "fontSize": 36.3, "align": "left", "baseline": "alphabetic", "color": "#000"},
     "encoding": {"x": {"datum": 0.705, "type": "quantitative"}, "y": {"datum": 0.3205, "type": "quantitative"}}},
    {"data": {"values": [{}]}, "mark": {"type": "text", "text": "22", "fontSize": 37, "align": "left", "baseline": "alphabetic", "color": "#000"},
     "encoding": {"x": {"datum": 0.167, "type": "quantitative"}, "y": {"datum": 0.2506, "type": "quantitative"}}},
    {"data": {"values": [{}]}, "mark": {"type": "text", "text": "0", "fontSize": 26, "align": "left", "baseline": "alphabetic", "color": "#000"},
     "encoding": {"x": {"datum": 0.296, "type": "quantitative"}, "y": {"datum": 0.2602, "type": "quantitative"}}},
    {"data": {"values": [{}]}, "mark": {"type": "text", "text": "C", "fontSize": 36, "align": "left", "baseline": "alphabetic", "color": "#000"},
     "encoding": {"x": {"datum": 0.346, "type": "quantitative"}, "y": {"datum": 0.2506, "type": "quantitative"}}}
  ]
},
{
  "width": 622, "height": 68,
  "layer": [
    {"data": {"name": "d"}, "mark": {"type": "line", "color": "#ff0000", "strokeWidth": 1.2, "clip": true},
     "encoding": {
       "x": {"field": "t", "type": "quantitative", "scale": {"domain": [0, 2], "nice": false},
             "axis": {"values": [0,0.25,0.5,0.75,1,1.25,1.5,1.75,2], "tickCount": 20, "labelOverlap": false,
                      "labelExpr": "round(datum.value*4) % 2 == 0 ? format(datum.value, '.1f') : ''",
                      "labelFontSize": 27, "labelPadding": 15,
                      "tickSize": {"condition": {"test": "round(datum.value*4) % 2 == 0", "value": -8}, "value": -5},
                      "title": "Time (μs)", "titleFontSize": 37, "titlePadding": 0, "titleX": 293}},
       "y": {"field": "e", "type": "quantitative", "scale": {"domain": [-3, 3], "nice": false},
             "axis": {"values": [-3,-1.5,0,1.5,3], "tickCount": 20, "labelOverlap": false,
                      "labelExpr": "datum.value == 3 ? '3' : datum.value == 0 ? '0' : datum.value == -3 ? '-3' : ''",
                      "labelFontSize": {"condition": {"test": "abs(datum.value) % 3 == 0", "value": 17}, "value": 1},
                      "labelPadding": 18,
                      "tickSize": {"condition": {"test": "abs(datum.value) % 3 == 0", "value": -8}, "value": -5},
                      "title": null}}
     }},
    {"data": {"values": [{}]}, "mark": {"type": "text", "text": "=1.215", "fontSize": 27, "align": "right", "baseline": "alphabetic", "color": "#000"},
     "encoding": {"x": {"datum": 1.965, "type": "quantitative"}, "y": {"datum": 4.15, "type": "quantitative"}}},
    {"data": {"values": [{}]}, "mark": {"type": "text", "text": "X", "fontSize": 25, "fontStyle": "italic", "align": "left", "baseline": "alphabetic", "color": "#000"},
     "encoding": {"x": {"datum": 1.592, "type": "quantitative"}, "y": {"datum": 4.15, "type": "quantitative"}}},
    {"data": {"values": [{}]}, "mark": {"type": "text", "text": "R", "fontSize": 15, "align": "left", "baseline": "alphabetic", "color": "#000"},
     "encoding": {"x": {"datum": 1.65, "type": "quantitative"}, "y": {"datum": 3.35, "type": "quantitative"}}},
    {"data": {"values": [{}]}, "mark": {"type": "text", "text": "2", "fontSize": 14, "align": "left", "baseline": "alphabetic", "color": "#000"},
     "encoding": {"x": {"datum": 1.675, "type": "quantitative"}, "y": {"datum": 5.38, "type": "quantitative"}}}
  ]
}
]
}
